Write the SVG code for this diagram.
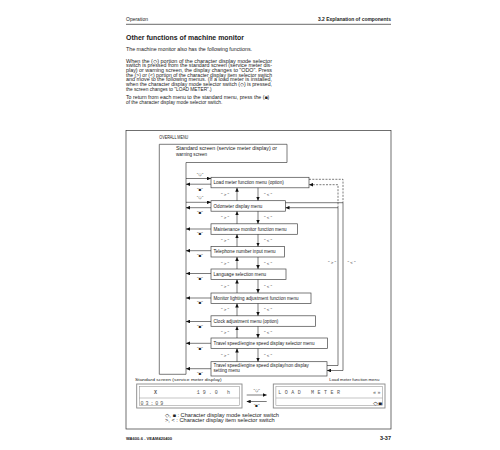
<svg xmlns="http://www.w3.org/2000/svg" width="500" height="450" viewBox="0 0 500 450">
<defs>
<marker id="ah" markerUnits="userSpaceOnUse" markerWidth="4" markerHeight="3.6" refX="4" refY="1.8" orient="auto">
<path d="M0,0 L4,1.8 L0,3.6 z" fill="#111"/>
</marker>
<style>
text{font-family:"Liberation Sans",Arial,"DejaVu Sans",sans-serif;fill:#222}
.b{font-weight:bold}
.p{font-size:5px}
.m{font-size:4.6px}
.s{font-size:4.4px}
.box{fill:#fff;stroke:#444;stroke-width:0.7}
.c{fill:none;stroke:#222;stroke-width:0.6}
.ca{fill:none;stroke:#222;stroke-width:0.6;marker-end:url(#ah)}
.d{stroke-dasharray:2,1.3}
.lcd{fill:#fff;stroke:#888;stroke-width:0.9}
.lcdi{fill:none;stroke:#888;stroke-width:0.5}
.lt{font-family:"Liberation Mono","DejaVu Sans Mono",monospace;font-size:5px;fill:#555}
.mid{text-anchor:middle}
</style>
</defs>
<rect width="500" height="450" fill="#fff"/>

<g id="header">
<text class="p" x="126" y="20.5" font-size="4.8">Operation</text>
<text class="b" x="391" y="20.5" font-size="5" text-anchor="end" textLength="73" lengthAdjust="spacingAndGlyphs">3.2  Explanation of components</text>
<line x1="126" y1="24.3" x2="391" y2="24.3" stroke="#444" stroke-width="0.8"/>
<text class="b" x="126" y="39.6" font-size="7" textLength="118" lengthAdjust="spacingAndGlyphs">Other functions of machine monitor</text>
<text class="p" x="126" y="51" textLength="126" lengthAdjust="spacingAndGlyphs">The machine monitor also has the following functions.</text>
<text class="p" x="126" y="62.7" textLength="146" lengthAdjust="spacingAndGlyphs">When the (◇)  portion of the character display mode selector</text>
<text class="p" x="126" y="67.4" textLength="146" lengthAdjust="spacingAndGlyphs">switch is pressed from the standard screen (service meter dis-</text>
<text class="p" x="126" y="72" textLength="146" lengthAdjust="spacingAndGlyphs">play) or warning screen, the display changes to "ODO". Press</text>
<text class="p" x="126" y="76.7" textLength="146" lengthAdjust="spacingAndGlyphs">the (&gt;) or (&lt;) portion of the character display item selector switch</text>
<text class="p" x="126" y="81.4" textLength="146" lengthAdjust="spacingAndGlyphs">and move to the following menus. (If a load meter is installed,</text>
<text class="p" x="126" y="86" textLength="146" lengthAdjust="spacingAndGlyphs">when the character display mode selector switch (◇) is pressed,</text>
<text class="p" x="126" y="90.7" textLength="85.7" lengthAdjust="spacingAndGlyphs">the screen changes to "LOAD METER".)</text>
<text class="p" x="126" y="99.4" textLength="143.3" lengthAdjust="spacingAndGlyphs">To return from each menu to the standard menu, press the (■)</text>
<text class="p" x="126" y="104" textLength="96.3" lengthAdjust="spacingAndGlyphs">of the character display mode selector switch.</text>
</g>

<g id="frame">
<rect x="126" y="130.5" width="265" height="298.5" fill="none" stroke="#333" stroke-width="0.7"/>
<text class="m" x="159.3" y="139.4" textLength="29" lengthAdjust="spacingAndGlyphs">OVERALL MENU</text>
</g>

<g id="standard-screen">
<path class="box" d="M159.3,144.3 H287 V162.5 H186 V374.3 H159.3 Z"/>
<text class="m" x="176" y="150.4" textLength="101" lengthAdjust="spacingAndGlyphs">Standard screen (service meter display) or</text>
<text class="m" x="176" y="156.4">warning screen</text>
</g>

<g id="menu-load-meter"><rect class="box" x="211" y="177.3" width="98" height="10.5"/><text class="m" x="213.5" y="184.2">Load meter function menu (option)</text></g>
<g id="menu-odometer"><rect class="box" x="211" y="200.7" width="74.5" height="10.5"/><text class="m" x="213.5" y="207.6">Odometer display menu</text></g>
<g id="menu-maintenance"><rect class="box" x="211" y="223.8" width="86.5" height="10.5"/><text class="m" x="213.5" y="230.7">Maintenance monitor function menu</text></g>
<g id="menu-telephone"><rect class="box" x="211" y="246.5" width="73.5" height="10.5"/><text class="m" x="213.5" y="253.4">Telephone number input menu</text></g>
<g id="menu-language"><rect class="box" x="211" y="269" width="75" height="10.5"/><text class="m" x="213.5" y="275.9">Language selection menu</text></g>
<g id="menu-lighting"><rect class="box" x="211" y="293" width="100" height="10.5"/><text class="m" x="213.5" y="299.9">Monitor lighting adjustment function menu</text></g>
<g id="menu-clock"><rect class="box" x="211" y="315.8" width="104.5" height="10.5"/><text class="m" x="213.5" y="322.7">Clock adjustment menu (option)</text></g>
<g id="menu-travel-selector"><rect class="box" x="211" y="338" width="116.5" height="10.5"/><text class="m" x="213.5" y="344.9">Travel speed/engine speed display selector menu</text></g>
<g id="menu-travel-setting"><rect class="box" x="211" y="361.7" width="116" height="14.3"/><text class="m" x="213.5" y="367">Travel speed/engine speed display/non display</text><text class="m" x="213.5" y="371.8">setting menu</text></g>

<g id="connectors">
<!-- mode switch arrows -->
<line class="ca" x1="186" y1="178.5" x2="211" y2="178.5"/>
<line class="ca" x1="186" y1="202.3" x2="211" y2="202.3"/>
<line class="ca" x1="211" y1="184.2" x2="186" y2="184.2"/>
<line class="ca" x1="211" y1="207.7" x2="186" y2="207.7"/>
<line class="ca" x1="211" y1="229" x2="186" y2="229"/>
<line class="ca" x1="211" y1="250.7" x2="186" y2="250.7"/>
<line class="ca" x1="211" y1="273.5" x2="186" y2="273.5"/>
<line class="ca" x1="211" y1="298" x2="186" y2="298"/>
<line class="ca" x1="211" y1="321.5" x2="186" y2="321.5"/>
<line class="ca" x1="211" y1="343.3" x2="186" y2="343.3"/>
<line class="ca" x1="211" y1="368.7" x2="186" y2="368.7"/>
<!-- up (>) arrows -->
<line class="ca" x1="237" y1="200.7" x2="237" y2="187.8"/>
<line class="ca" x1="237" y1="223.8" x2="237" y2="211.2"/>
<line class="ca" x1="237" y1="246.5" x2="237" y2="234.3"/>
<line class="ca" x1="237" y1="269" x2="237" y2="257"/>
<line class="ca" x1="237" y1="293" x2="237" y2="279.5"/>
<line class="ca" x1="237" y1="315.8" x2="237" y2="303.5"/>
<line class="ca" x1="237" y1="338" x2="237" y2="326.3"/>
<line class="ca" x1="237" y1="361.7" x2="237" y2="348.5"/>
<!-- down (<) arrows -->
<line class="ca" x1="258" y1="187.8" x2="258" y2="200.7"/>
<line class="ca" x1="258" y1="211.2" x2="258" y2="223.8"/>
<line class="ca" x1="258" y1="234.3" x2="258" y2="246.5"/>
<line class="ca" x1="258" y1="257" x2="258" y2="269"/>
<line class="ca" x1="258" y1="279.5" x2="258" y2="293"/>
<line class="ca" x1="258" y1="303.5" x2="258" y2="315.8"/>
<line class="ca" x1="258" y1="326.3" x2="258" y2="338"/>
<line class="ca" x1="258" y1="348.5" x2="258" y2="361.7"/>
<!-- wrap-around loops -->
<path class="ca" d="M327,365.5 H338 V207.7 H285.5"/>
<path class="ca d" d="M338,207.7 V184.7 H309"/>
<path class="c d" d="M309,179.3 H343 V202.7"/>
<path class="ca" d="M285.5,202.7 H343 V370.5 H327"/>
<!-- bottom arrows -->
<line class="ca" x1="246.7" y1="395" x2="266.7" y2="395"/>
<line class="ca" x1="266.7" y1="401.5" x2="246.7" y2="401.5"/>
</g>

<g id="labels" class="s">
<text class="s mid" x="200" y="175.8">"◇"</text>
<text class="s mid" x="200" y="190.8">"■"</text>
<text class="s mid" x="200" y="198.5">"◇"</text>
<text class="s mid" x="200" y="213.8">"■"</text>
<text class="s mid" x="200" y="234.8">"■"</text>
<text class="s mid" x="200" y="256.8">"■"</text>
<text class="s mid" x="200" y="279.5">"■"</text>
<text class="s mid" x="200" y="304.2">"■"</text>
<text class="s mid" x="200" y="328">"■"</text>
<text class="s mid" x="200" y="350.2">"■"</text>
<text class="s mid" x="200" y="374.8">"■"</text>
<text class="s mid" x="225" y="196">" &gt; "</text><text class="s mid" x="268" y="196">" &lt; "</text>
<text class="s mid" x="225" y="219">" &gt; "</text><text class="s mid" x="268" y="219">" &lt; "</text>
<text class="s mid" x="225" y="242">" &gt; "</text><text class="s mid" x="268" y="242">" &lt; "</text>
<text class="s mid" x="225" y="264.5">" &gt; "</text><text class="s mid" x="268" y="264.5">" &lt; "</text>
<text class="s mid" x="225" y="287.8">" &gt; "</text><text class="s mid" x="268" y="287.8">" &lt; "</text>
<text class="s mid" x="225" y="311.2">" &gt; "</text><text class="s mid" x="268" y="311.2">" &lt; "</text>
<text class="s mid" x="225" y="333.7">" &gt; "</text><text class="s mid" x="268" y="333.7">" &lt; "</text>
<text class="s mid" x="225" y="356.6">" &gt; "</text><text class="s mid" x="268" y="356.6">" &lt; "</text>
<text class="s mid" x="332" y="264">" &gt; "</text><text class="s mid" x="351.5" y="264">" &lt; "</text>
<text class="s mid" x="256.7" y="392.3">"◇"</text>
<text class="s mid" x="256.7" y="407">"■"</text>
</g>

<g id="lcd-standard">
<text class="s" x="135" y="381.4" textLength="86.7" lengthAdjust="spacingAndGlyphs">Standard screen (service meter display)</text>
<rect class="lcd" x="136.7" y="384" width="105.3" height="24"/>
<rect class="lcdi" x="139.3" y="386.5" width="100.3" height="19"/>
<line class="lcdi" x1="139.3" y1="398" x2="239.6" y2="398"/>
<text class="lt" x="154" y="393.5" font-weight="bold">X</text>
<text class="lt" x="196.7" y="393.5" textLength="33.3" lengthAdjust="spacing">19.0  h</text>
<text class="lt" x="140.5" y="405" textLength="22.8" lengthAdjust="spacing">03:09</text>
</g>

<g id="lcd-load-meter">
<text class="s" x="379.3" y="381.4" text-anchor="end" textLength="50" lengthAdjust="spacingAndGlyphs">Load meter function menu</text>
<rect class="lcd" x="273.3" y="384" width="111.7" height="24"/>
<rect class="lcdi" x="275.9" y="386.5" width="106.5" height="19"/>
<line class="lcdi" x1="275.9" y1="398" x2="382.4" y2="398"/>
<text class="lt" x="278.3" y="393.5" textLength="61.7" lengthAdjust="spacing">LOAD  METER</text>
<text class="lt" x="373" y="393.5" textLength="7.5" lengthAdjust="spacing">«»</text>
<text x="373" y="404.5" font-size="5" textLength="9" lengthAdjust="spacingAndGlyphs">◇■</text>
</g>

<g id="legend">
<text class="p" x="165" y="416.5" textLength="114" lengthAdjust="spacingAndGlyphs">◇, ■ : Character display mode selector switch</text>
<text class="p" x="165" y="421.6" textLength="109.7" lengthAdjust="spacingAndGlyphs">&gt;, &lt; : Character display item selector switch</text>
</g>

<g id="footer">
<text class="b" x="126" y="440" font-size="4.2" textLength="46" lengthAdjust="spacingAndGlyphs">WA600-6 - VEAM420400</text>
<text class="b" x="391" y="440" font-size="5.5" text-anchor="end">3-37</text>
</g>
</svg>
